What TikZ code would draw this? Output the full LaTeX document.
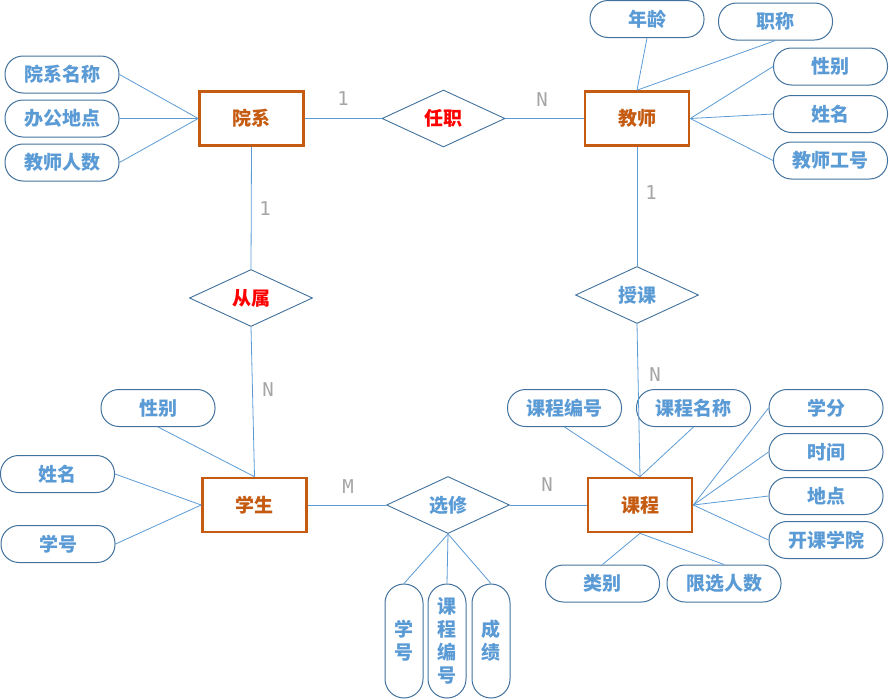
\documentclass[tikz,border=0pt]{standalone}
\usepackage{fontspec}
\usetikzlibrary{shapes.geometric}
\newfontfamily\cjk{Noto Sans CJK SC}
\newfontfamily\cardfont{DejaVu Sans Mono}
\definecolor{entc}{HTML}{C55A11}
\definecolor{attrtxt}{HTML}{5B9BD5}
\definecolor{attrbd}{HTML}{41719C}
\definecolor{linec}{HTML}{5B9BD5}
\definecolor{cardc}{HTML}{A5A5A5}
\definecolor{relred}{HTML}{FF0000}
\begin{document}
\begin{tikzpicture}[x=1pt,y=-1pt,
  every node/.style={font=\cjk\bfseries\fontsize{19}{23}\selectfont},
  entity/.style={draw=entc,line width=2.6pt,text=entc,minimum width=104pt,minimum height=54pt,inner sep=0pt},
  attr/.style={draw=attrbd,line width=1pt,text=attrtxt,rounded corners=18pt,minimum width=114pt,minimum height=37pt,inner sep=0pt},
  vattr/.style={draw=attrbd,line width=1pt,text=attrtxt,rounded corners=19pt,minimum width=38pt,minimum height=114pt,inner sep=0pt,align=center},
  rel/.style={diamond,draw=attrbd,line width=0.9pt,minimum width=123pt,minimum height=57pt,inner sep=0pt},
  conn/.style={draw=linec,line width=0.8pt},
  card/.style={text=cardc,font=\cardfont\fontsize{19}{22}\selectfont}
]
\useasboundingbox (0,0) rectangle (889,699);

% entities
\node[entity] (yx) at (251.5,118.5) {院系};
\node[entity] (js) at (637,118.5) {教师};
\node[entity] (xs) at (254.5,505) {学生};
\node[entity] (kc) at (640,505) {课程};

% relations
\node[rel,text=relred] (rz) at (443.5,118.5) {任职};
\node[rel,text=relred] (cs) at (251,298) {从属};
\node[rel,text=attrtxt] (sk) at (637,295) {授课};
\node[rel,text=attrtxt] (xx) at (448,505) {选修};

% attributes of 院系
\node[attr] (yxmc) at (62,74.5) {院系名称};
\node[attr] (bgdd) at (62,118.5) {办公地点};
\node[attr] (jsrs) at (62,162.5) {教师人数};

% attributes of 教师
\node[attr] (nl) at (647,19) {年龄};
\node[attr] (zc) at (775.5,21.5) {职称};
\node[attr] (jsxb) at (830.5,66.5) {性别};
\node[attr] (jsxm) at (830.5,114) {姓名};
\node[attr] (jsgh) at (830.5,160.5) {教师工号};

% attributes of 学生
\node[attr] (xsxb) at (158,408) {性别};
\node[attr] (xsxm) at (57.5,474) {姓名};
\node[attr] (xsxh) at (58,544) {学号};

% attributes of 课程
\node[attr] (kcbh) at (564.5,408) {课程编号};
\node[attr] (kcmc) at (693.5,408) {课程名称};
\node[attr] (xf) at (826,408) {学分};
\node[attr] (sj) at (826,452) {时间};
\node[attr] (dd) at (826,496) {地点};
\node[attr] (kkxy) at (826,540) {开课学院};
\node[attr] (lb) at (602.5,583.5) {类别};
\node[attr] (xxrs) at (724,583.5) {限选人数};

% attributes of 选修
\node[vattr] (xxxh) at (404,641) {学\\号};
\node[vattr] (xxbh) at (447,641) {课\\程\\编\\号};
\node[vattr] (cj) at (491,641) {成\\绩};

% relation connectors
\draw[conn] (yx.east) -- (rz.west);
\draw[conn] (rz.east) -- (js.west);
\draw[conn] (yx.south) -- (cs.north);
\draw[conn] (cs.south) -- (xs.north);
\draw[conn] (js.south) -- (sk.north);
\draw[conn] (sk.south) -- (kc.north);
\draw[conn] (xs.east) -- (xx.west);
\draw[conn] (xx.east) -- (kc.west);

% attribute connectors
\draw[conn] (yxmc.east) -- (yx.west);
\draw[conn] (bgdd.east) -- (yx.west);
\draw[conn] (jsrs.east) -- (yx.west);

\draw[conn] (nl.south) -- (js.north);
\draw[conn] (zc.south) -- (js.north);
\draw[conn] (jsxb.west) -- (js.east);
\draw[conn] (jsxm.west) -- (js.east);
\draw[conn] (jsgh.west) -- (js.east);

\draw[conn] (xsxb.south) -- (xs.north);
\draw[conn] (xsxm.east) -- (xs.west);
\draw[conn] (xsxh.east) -- (xs.west);

\draw[conn] (kcbh.south) -- (kc.north);
\draw[conn] (kcmc.south) -- (kc.north);
\draw[conn] (xf.west) -- (kc.east);
\draw[conn] (sj.west) -- (kc.east);
\draw[conn] (dd.west) -- (kc.east);
\draw[conn] (kkxy.west) -- (kc.east);
\draw[conn] (lb.north) -- (kc.south);
\draw[conn] (xxrs.north) -- (kc.south);

\draw[conn] (xx.south) -- (xxxh.north);
\draw[conn] (xx.south) -- (xxbh.north);
\draw[conn] (xx.south) -- (cj.north);

% cardinalities
\node[card] (c1) at (343,99) {1};
\node[card] (c2) at (542,100) {N};
\node[card] (c3) at (265,209) {1};
\node[card] (c4) at (651,193) {1};
\node[card] (c5) at (268,390) {N};
\node[card] (c6) at (655,375) {N};
\node[card] (c7) at (348,487) {M};
\node[card] (c8) at (547,485) {N};
\end{tikzpicture}
\end{document}
